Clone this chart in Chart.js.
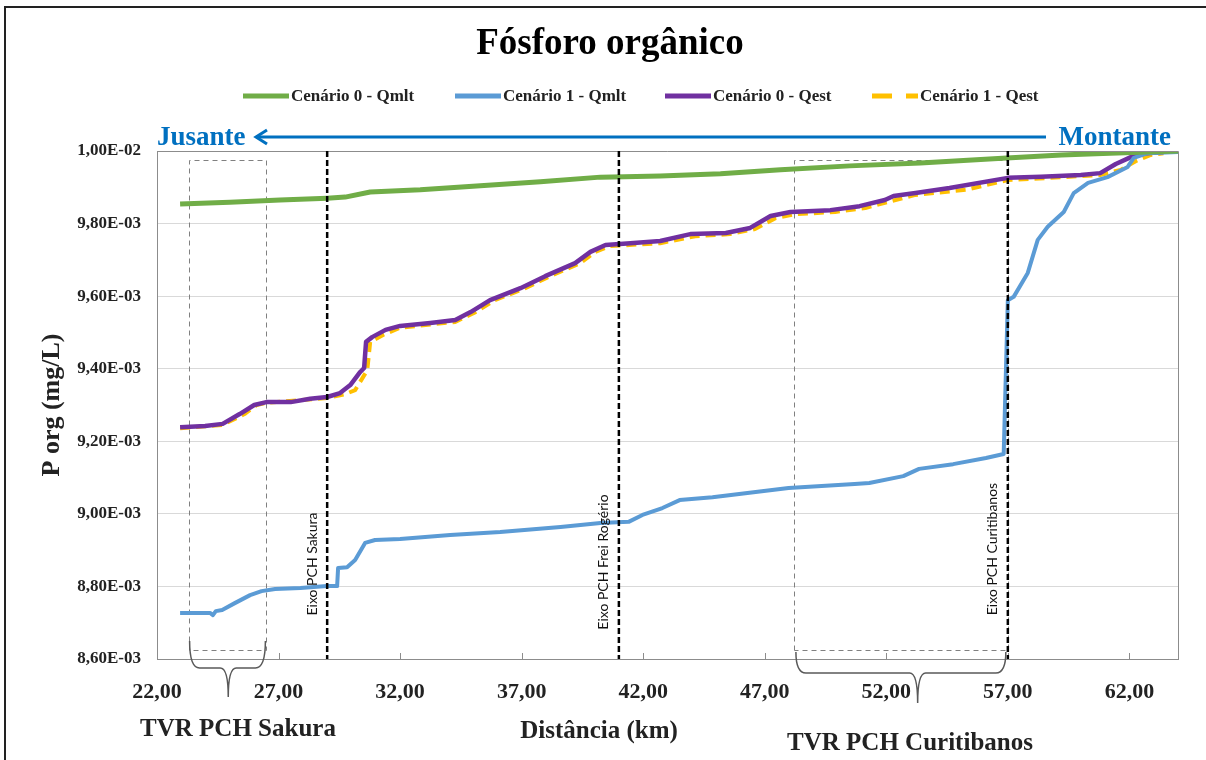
<!DOCTYPE html>
<html>
<head>
<meta charset="utf-8">
<script src="https://cdn.jsdelivr.net/npm/chart.js@4.4.0/dist/chart.umd.min.js"></script>
<style>
  html, body { margin: 0; padding: 0; background: #fff; }
  #wrap { width: 1206px; height: 760px; position: relative; }
</style>
</head>
<body>
<div id="wrap"><canvas id="chart" width="1206" height="760"></canvas></div>
<script>
// Data (distance in km, P org in mg/L)
const xTicks = [22, 27, 32, 37, 42, 47, 52, 57, 62];
const yTicks = [0.0086, 0.0088, 0.0090, 0.0092, 0.0094, 0.0096, 0.0098, 0.0100];

const c0QmltKm = [22.95, 25.0, 27.06, 29.0, 29.74, 30.77, 32.83, 35.3, 37.77, 40.24, 42.7, 45.18, 47.65, 50.5, 53.4, 56.95, 59.2, 61.2, 64.0];
const c0QmltVal = [0.009854, 0.009859, 0.009865, 0.009870, 0.009873, 0.009887, 0.009893, 0.009904, 0.009915, 0.009928, 0.009931, 0.009937, 0.009948, 0.009959, 0.009967, 0.009981, 0.009989, 0.009994, 0.010000];

const c1QmltKm = [22.95, 24.18, 24.3, 24.42, 24.68, 25.2, 25.83, 26.3, 26.86, 27.9, 29.0, 29.41, 29.45, 29.82, 30.15, 30.56, 30.97, 32.0, 34.06, 36.12, 38.6, 40.24, 41.4, 41.97, 42.79, 43.5, 44.85, 47.98, 50.7, 51.3, 52.7, 53.35, 54.75, 56.1, 56.83, 57.0, 57.24, 57.82, 58.23, 58.64, 59.3, 59.71, 60.3, 61.1, 61.93, 62.18, 62.76, 64.0];
const c1QmltVal = [0.008727, 0.008727, 0.008721, 0.008732, 0.008735, 0.008754, 0.008776, 0.008787, 0.008793, 0.008796, 0.008801, 0.008801, 0.008851, 0.008853, 0.008873, 0.008920, 0.008928, 0.008931, 0.008942, 0.008950, 0.008964, 0.008975, 0.008978, 0.008997, 0.009016, 0.009038, 0.009046, 0.009071, 0.009082, 0.009085, 0.009104, 0.009124, 0.009137, 0.009154, 0.009165, 0.009589, 0.009598, 0.009664, 0.009755, 0.009791, 0.009832, 0.009884, 0.009912, 0.009928, 0.009956, 0.009981, 0.009994, 0.009997];

const c0QestKm = [22.95, 23.98, 24.7, 25.4, 26.0, 26.5, 27.5, 28.3, 29.0, 29.53, 29.95, 30.36, 30.52, 30.6, 30.85, 31.4, 32.0, 33.24, 34.27, 34.9, 35.7, 36.95, 37.97, 39.2, 39.83, 40.45, 41.47, 42.7, 43.94, 45.4, 46.4, 47.24, 48.06, 49.7, 50.9, 51.94, 52.3, 53.2, 54.6, 57.0, 58.36, 60.0, 60.8, 61.44, 62.06, 62.7, 63.4];
const c0QestVal = [0.009239, 0.009242, 0.009248, 0.009275, 0.009300, 0.009308, 0.009308, 0.009317, 0.009322, 0.009333, 0.009355, 0.009391, 0.009402, 0.009474, 0.009487, 0.009507, 0.009518, 0.009526, 0.009534, 0.009556, 0.009589, 0.009622, 0.009655, 0.009691, 0.009722, 0.009741, 0.009746, 0.009752, 0.009771, 0.009774, 0.009788, 0.009821, 0.009832, 0.009837, 0.009848, 0.009865, 0.009876, 0.009884, 0.009898, 0.009926, 0.009929, 0.009934, 0.009939, 0.009964, 0.009983, 0.009994, 0.009997];

const c1QestKm = [22.95, 24.7, 25.6, 26.1, 26.5, 29.0, 29.74, 30.15, 30.65, 30.77, 31.3, 32.0, 34.27, 35.1, 35.9, 37.15, 38.18, 39.41, 40.03, 40.65, 42.7, 44.14, 45.58, 46.6, 47.44, 48.27, 49.9, 51.14, 52.38, 53.2, 55.27, 57.0, 58.76, 60.8, 61.64, 62.26, 62.88, 63.4];
const c1QestVal = [0.009236, 0.009245, 0.009275, 0.009300, 0.009306, 0.009319, 0.009330, 0.009341, 0.009396, 0.009474, 0.009493, 0.009513, 0.009529, 0.009556, 0.009589, 0.009622, 0.009655, 0.009691, 0.009722, 0.009738, 0.009746, 0.009765, 0.009771, 0.009785, 0.009815, 0.009826, 0.009832, 0.009843, 0.009865, 0.009879, 0.009893, 0.009920, 0.009926, 0.009934, 0.009948, 0.009972, 0.009989, 0.009994];

const damKm = [29.0, 41.0, 57.0];
const damLabels = ["Eixo PCH Sakura", "Eixo PCH Frei Rogério", "Eixo PCH Curitibanos"];
const tvrRanges = [[23.3, 26.5], [48.2, 57.0]];
const tvrLabels = ["TVR PCH Sakura", "TVR PCH Curitibanos"];

function pts(xs, ys) {
  return xs.map((x, i) => ({ x: x, y: ys[i] }));
}

function sci(v) {
  const parts = v.toExponential(2).split("e");
  const n = parseInt(parts[1], 10);
  return parts[0].replace(".", ",") + "E" + (n < 0 ? "-" : "+") + String(Math.abs(n)).padStart(2, "0");
}

const SERIF = "'Liberation Serif', 'DejaVu Serif', serif";
const BLUE = "#0070C0";

// Everything that is not a data mark: title, legend, river arrow, boxes, dam lines, labels
const decor = {
  id: "decor",
  beforeDatasetsDraw(chart) {
    const ctx = chart.ctx;
    const xs = chart.scales.x;
    ctx.save();
    // dashed TVR boxes
    ctx.strokeStyle = "#808080";
    ctx.lineWidth = 1;
    ctx.setLineDash([5, 4]);
    tvrRanges.forEach((r) => {
      const l = Math.round(xs.getPixelForValue(r[0])) + 0.5;
      const rr = Math.round(xs.getPixelForValue(r[1])) + 0.5;
      ctx.beginPath();
      ctx.moveTo(l, 650.5); ctx.lineTo(l, 160.5); ctx.lineTo(rr, 160.5); ctx.lineTo(rr, 650.5); ctx.lineTo(l, 650.5);
      ctx.stroke();
    });
    ctx.restore();
  },
  afterDraw(chart) {
    const ctx = chart.ctx;
    const xs = chart.scales.x;
    const area = chart.chartArea;
    ctx.save();

    // right and top plot border
    ctx.strokeStyle = "#8c8c8c";
    ctx.lineWidth = 1;
    ctx.beginPath();
    ctx.moveTo(area.left, area.top + 0.5);
    ctx.lineTo(area.right + 0.5, area.top + 0.5);
    ctx.lineTo(area.right + 0.5, area.bottom);
    ctx.stroke();

    // inward tick marks on x axis
    xTicks.forEach((v) => {
      const px = Math.round(xs.getPixelForValue(v)) + 0.5;
      ctx.beginPath();
      ctx.moveTo(px, area.bottom);
      ctx.lineTo(px, area.bottom - 6);
      ctx.stroke();
    });

    // dam axis lines
    ctx.strokeStyle = "#000";
    ctx.lineWidth = 2.5;
    ctx.setLineDash([6, 3]);
    damKm.forEach((k) => {
      const px = xs.getPixelForValue(k);
      ctx.beginPath();
      ctx.moveTo(px, area.top);
      ctx.lineTo(px, area.bottom);
      ctx.stroke();
    });
    ctx.setLineDash([]);

    // dam labels
    ctx.fillStyle = "#111";
    ctx.font = "14px Lato, 'Noto Sans', sans-serif";
    ctx.textAlign = "center";
    ctx.textBaseline = "middle";
    const labelY = [564, 562, 549];
    damKm.forEach((k, i) => {
      const px = xs.getPixelForValue(k) - 15;
      ctx.save();
      ctx.translate(px, labelY[i]);
      ctx.rotate(-Math.PI / 2);
      ctx.fillText(damLabels[i], 0, 0);
      ctx.restore();
    });

    // braces under TVR boxes
    ctx.strokeStyle = "#595959";
    ctx.lineWidth = 1.5;
    const brace = (xl, xr, frac, yTop, yMid, yTip) => {
      const xm = xl + (xr - xl) * frac;
      ctx.beginPath();
      ctx.moveTo(xl, yTop);
      ctx.quadraticCurveTo(xl, yMid, xl + 10, yMid);
      ctx.lineTo(xm - 8, yMid);
      ctx.quadraticCurveTo(xm, yMid, xm, yTip);
      ctx.quadraticCurveTo(xm, yMid, xm + 8, yMid);
      ctx.lineTo(xr - 10, yMid);
      ctx.quadraticCurveTo(xr, yMid, xr, yTop);
      ctx.stroke();
    };
    brace(xs.getPixelForValue(tvrRanges[0][0]) + 1, xs.getPixelForValue(tvrRanges[0][1]) - 1, 0.51, 641, 668, 697);
    brace(xs.getPixelForValue(tvrRanges[1][0]) + 2, xs.getPixelForValue(tvrRanges[1][1]) - 2, 0.58, 652, 673, 703);

    // title
    ctx.fillStyle = "#000";
    ctx.textAlign = "center";
    ctx.textBaseline = "alphabetic";
    ctx.font = "bold 37px " + SERIF;
    ctx.fillText("Fósforo orgânico", 610, 54);

    // legend
    ctx.font = "bold 17px " + SERIF;
    ctx.textAlign = "left";
    ctx.textBaseline = "middle";
    const legX = [243, 455, 665, 872];
    chart.data.datasets.forEach((ds, i) => {
      const x0 = legX[i];
      ctx.strokeStyle = ds.borderColor;
      ctx.lineWidth = 5;
      ctx.setLineDash(ds.borderDash ? [20, 14] : []);
      ctx.beginPath();
      ctx.moveTo(x0, 96);
      ctx.lineTo(x0 + 46, 96);
      ctx.stroke();
      ctx.setLineDash([]);
      ctx.fillStyle = "#222";
      ctx.fillText(ds.label, x0 + 48, 97);
    });

    // river direction arrow
    ctx.fillStyle = BLUE;
    ctx.strokeStyle = BLUE;
    ctx.font = "bold 27px " + SERIF;
    ctx.textBaseline = "alphabetic";
    ctx.textAlign = "left";
    ctx.fillText("Jusante", 157, 145);
    ctx.textAlign = "right";
    ctx.fillText("Montante", 1171, 145);
    ctx.lineWidth = 3;
    ctx.beginPath();
    ctx.moveTo(256, 137);
    ctx.lineTo(1046, 137);
    ctx.stroke();
    ctx.beginPath();
    ctx.moveTo(267, 130);
    ctx.lineTo(256, 137);
    ctx.lineTo(267, 144);
    ctx.stroke();

    // axis / TVR captions
    ctx.fillStyle = "#222";
    ctx.textAlign = "center";
    ctx.font = "bold 25px " + SERIF;
    ctx.fillText("Distância (km)", 599, 738);
    ctx.fillText(tvrLabels[0], 238, 736);
    ctx.fillText(tvrLabels[1], 910, 750);

    // outer frame
    ctx.strokeStyle = "#222";
    ctx.lineWidth = 2;
    ctx.beginPath();
    ctx.moveTo(5, 760);
    ctx.lineTo(5, 7);
    ctx.lineTo(1206, 7);
    ctx.stroke();

    ctx.restore();
  },
};

const ctx = document.getElementById("chart").getContext("2d");
const chart = new Chart(ctx, {
  type: "line",
  data: {
    datasets: [
      {
        label: "Cenário 0 - Qmlt",
        data: pts(c0QmltKm, c0QmltVal),
        borderColor: "#70AD47",
        borderWidth: 5,
      },
      {
        label: "Cenário 1 - Qmlt",
        data: pts(c1QmltKm, c1QmltVal),
        borderColor: "#5B9BD5",
        borderWidth: 4,
      },
      {
        label: "Cenário 0 - Qest",
        data: pts(c0QestKm, c0QestVal),
        borderColor: "#7030A0",
        borderWidth: 4.5,
      },
      {
        label: "Cenário 1 - Qest",
        data: pts(c1QestKm, c1QestVal),
        borderColor: "#FFC000",
        borderWidth: 4,
        borderDash: [10, 6],
      },
    ],
  },
  options: {
    responsive: false,
    animation: false,
    events: [],
    datasets: {
      line: { pointRadius: 0, tension: 0, fill: false, borderCapStyle: "butt", borderJoinStyle: "round" },
    },
    layout: { padding: { left: 0, top: 151, right: 28, bottom: 0 } },
    plugins: {
      legend: { display: false },
      tooltip: { enabled: false },
    },
    scales: {
      x: {
        type: "linear",
        min: 22,
        max: 64,
        afterBuildTicks: (s) => { s.ticks = xTicks.map((v) => ({ value: v })); },
        afterFit: (s) => { s.height = 101; },
        grid: { display: false, drawTicks: false },
        border: { display: true, color: "#8c8c8c", width: 1 },
        ticks: {
          padding: 20,
          color: "#222",
          font: { family: SERIF, size: 22, weight: "bold" },
          maxRotation: 0,
          callback: (v) => v.toFixed(2).replace(".", ","),
        },
      },
      y: {
        type: "linear",
        min: 0.0086,
        max: 0.0100,
        afterBuildTicks: (s) => { s.ticks = yTicks.map((v) => ({ value: v })); },
        afterFit: (s) => { s.width = 157; },
        grid: { color: "#d9d9d9", lineWidth: 1, drawTicks: false },
        border: { display: true, color: "#8c8c8c", width: 1 },
        ticks: {
          padding: 16,
          color: "#222",
          font: { family: SERIF, size: 17, weight: "bold" },
          callback: (v) => sci(v),
        },
        title: {
          display: true,
          text: "P org (mg/L)",
          color: "#222",
          font: { family: SERIF, size: 26, weight: "bold" },
          padding: { top: 37, bottom: 0 },
        },
      },
    },
  },
  plugins: [decor],
});
</script>
</body>
</html>
